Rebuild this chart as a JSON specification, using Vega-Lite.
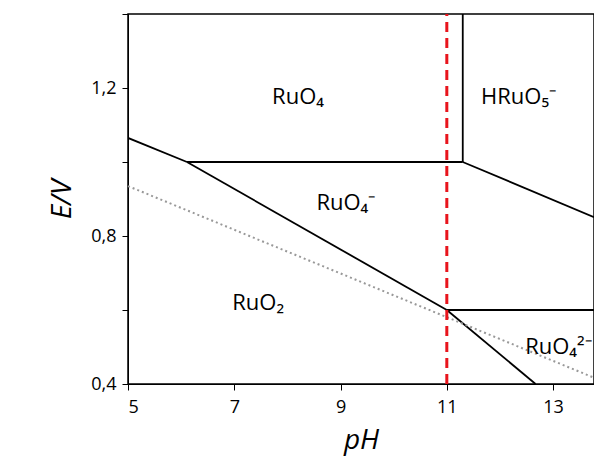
{
  "$schema": "https://vega.github.io/schema/vega-lite/v6.json",
  "autosize": "none",
  "width": 466,
  "height": 370,
  "padding": {"left": 128, "top": 14, "right": 0, "bottom": 87},
  "background": "white",
  "config": {"view": {"stroke": "black", "strokeWidth": 1.5}, "font": "Open Sans"},
  "layer": [
    {
      "data": {"values": [
        {"seg": "a", "pH": 5, "E": 1.065}, {"seg": "a", "pH": 6.11, "E": 1.0},
        {"seg": "b", "pH": 6.11, "E": 1.0}, {"seg": "b", "pH": 11.0, "E": 0.6},
        {"seg": "c", "pH": 11.0, "E": 0.6}, {"seg": "c", "pH": 12.67, "E": 0.4},
        {"seg": "d", "pH": 6.11, "E": 1.0}, {"seg": "d", "pH": 11.3, "E": 1.0},
        {"seg": "e", "pH": 11.3, "E": 1.0}, {"seg": "e", "pH": 13.77, "E": 0.851},
        {"seg": "f", "pH": 11.3, "E": 1.0}, {"seg": "f", "pH": 11.3, "E": 1.4},
        {"seg": "g", "pH": 11.0, "E": 0.6}, {"seg": "g", "pH": 13.77, "E": 0.6}
      ]},
      "mark": {"type": "line", "color": "black", "strokeWidth": 1.8, "clip": true},
      "encoding": {
        "x": {"field": "pH", "type": "quantitative", "scale": {"domain": [5, 13.77], "nice": false},
          "axis": {"values": [5, 7, 9, 11, 13], "title": "pH", "titleFontStyle": "italic", "titleFontWeight": "normal", "titleFontSize": 28, "titlePadding": 10, "labelFontSize": 18, "labelColor": "black", "grid": false, "domainColor": "black", "tickColor": "black", "tickSize": 6, "labelPadding": 8}},
        "y": {"field": "E", "type": "quantitative", "scale": {"domain": [0.4, 1.4], "nice": false},
          "axis": {"values": [0.4, 0.5, 0.6, 0.7, 0.8, 0.9, 1.0, 1.1, 1.2, 1.3, 1.4], "labelExpr": "(round(datum.value*10) % 4 == 0) ? replace(format(datum.value, '.1f'), '.', ',') : ''", "title": "E/V", "titleFontStyle": "italic", "titleFontWeight": "normal", "titleFontSize": 28, "titlePadding": 14, "labelFontSize": 18, "labelColor": "black", "grid": false, "domainColor": "black", "tickColor": "black", "tickSize": 6, "labelPadding": 6}},
        "detail": {"field": "seg"},
        "order": {"field": "E"}
      }
    },
    {
      "data": {"values": [{"pH": 5, "E": 0.935}, {"pH": 13.77, "E": 0.417}]},
      "mark": {"type": "line", "color": "#999999", "strokeWidth": 2, "strokeDash": [2, 3]},
      "encoding": {"x": {"field": "pH", "type": "quantitative"}, "y": {"field": "E", "type": "quantitative"}}
    },
    {
      "data": {"values": [{"pH": 11, "E": 0.4}, {"pH": 11, "E": 1.4}]},
      "mark": {"type": "line", "color": "#e8141c", "strokeWidth": 3, "strokeDash": [10, 6]},
      "encoding": {"x": {"field": "pH", "type": "quantitative"}, "y": {"field": "E", "type": "quantitative"}}
    },
    {
      "data": {"values": [
        {"label": "RuO₄", "pH": 8.2, "E": 1.175},
        {"label": "HRuO₅⁻", "pH": 12.35, "E": 1.175},
        {"label": "RuO₄⁻", "pH": 9.1, "E": 0.89},
        {"label": "RuO₂", "pH": 7.45, "E": 0.62},
        {"label": "RuO₄²⁻", "pH": 13.1, "E": 0.5}
      ]},
      "mark": {"type": "text", "fontSize": 22, "color": "black", "clip": true},
      "encoding": {"x": {"field": "pH", "type": "quantitative"}, "y": {"field": "E", "type": "quantitative"}, "text": {"field": "label"}}
    }
  ]
}
